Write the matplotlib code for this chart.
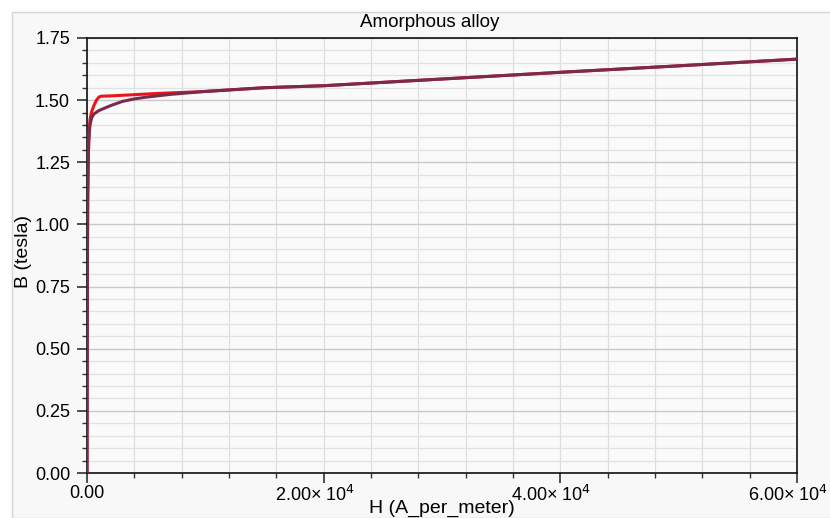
import matplotlib
matplotlib.use("Agg")
import matplotlib.pyplot as plt
from matplotlib.ticker import MultipleLocator, FuncFormatter
from matplotlib.patches import Rectangle
from matplotlib.transforms import ScaledTranslation

plt.rcParams['font.family'] = ['Liberation Sans', 'DejaVu Sans']

# Data
h_purple = [0, 30, 60, 100, 150, 250, 400, 600, 1000, 1500, 2000, 3000, 4000, 5000,
            7000, 10000, 15000, 20000, 30000, 40000, 50000, 60000]
b_purple = [0, 0.80, 1.10, 1.25, 1.34, 1.40, 1.43, 1.445, 1.458, 1.468, 1.478, 1.495,
            1.505, 1.512, 1.523, 1.535, 1.550, 1.558, 1.585, 1.612, 1.638, 1.665]

h_red = [0, 30, 60, 100, 150, 250, 400, 600, 800, 1000, 1200, 2000, 4000, 6000,
         8000, 10000, 15000, 20000, 30000, 40000, 50000, 60000]
b_red = [0, 0.80, 1.10, 1.25, 1.34, 1.42, 1.455, 1.48, 1.50, 1.512, 1.516, 1.517,
         1.522, 1.527, 1.531, 1.535, 1.550, 1.558, 1.585, 1.612, 1.638, 1.665]

title = "Amorphous alloy"
xlabel = "H (A_per_meter)"
ylabel = "B (tesla)"

fig = plt.figure(figsize=(8.3, 5.18), dpi=100, facecolor='white')
fig.patches.append(Rectangle((12/830, 0), 1 - 12/830 + 0.01, 1 - 12/518,
                             transform=fig.transFigure, facecolor='#f8f8f8',
                             edgecolor='#d4d4d4', linewidth=1.0, zorder=-10))
ax = fig.add_axes([87/830, 1 - 473/518, 710/830, 435/518])
ax.set_facecolor('#fafafa')

ax.plot(h_red, b_red, color='#e8161b', lw=2.2, zorder=3)
ax.plot(h_purple, b_purple, color='#7a2a4c', lw=2.2, zorder=4)

ax.set_xlim(0, 60000)
ax.set_ylim(0, 1.75)
ax.xaxis.set_major_locator(MultipleLocator(20000))
ax.xaxis.set_minor_locator(MultipleLocator(4000))
ax.yaxis.set_major_locator(MultipleLocator(0.25))
ax.yaxis.set_minor_locator(MultipleLocator(0.05))

def xfmt(v, pos):
    if v == 0:
        return "0.00"
    return "%.2f× 10$^{4}$" % (v / 1e4)

ax.xaxis.set_major_formatter(FuncFormatter(xfmt))
ax.yaxis.set_major_formatter(FuncFormatter(lambda v, p: "%.2f" % v))

ax.grid(which='major', axis='y', color='#c9c9c9', lw=1.0, zorder=0)
ax.grid(which='minor', axis='y', color='#e2e2e2', lw=0.9, zorder=0)
ax.grid(which='both', axis='x', color='#dedede', lw=0.9, zorder=0)
ax.set_axisbelow(True)

ax.tick_params(which='major', direction='out', length=7.2, width=1.2, color='#333333',
               labelsize=13)
ax.tick_params(axis='y', which='major', pad=5)
ax.tick_params(axis='x', which='major', pad=1.5)
ax.tick_params(which='minor', direction='out', length=3.6, width=1.0, color='#333333')
for s in ax.spines.values():
    s.set_color('#111111')
    s.set_linewidth(1.2)

fig.canvas.draw()
shift = ScaledTranslation(-9/100, 0, fig.dpi_scale_trans)
for tick in ax.xaxis.get_major_ticks():
    if tick.get_loc() > 0:
        tick.label1.set_transform(tick.label1.get_transform() + shift)

ax.set_title(title, fontsize=13.5, pad=8, x=0.483)
ax.set_xlabel(xlabel, fontsize=14)
ax.xaxis.set_label_coords(0.5, -0.062)
ax.set_ylabel(ylabel, fontsize=14)
ax.yaxis.set_label_coords(-0.077, 0.51)

fig.savefig("out.png", dpi=100, facecolor=fig.get_facecolor())
